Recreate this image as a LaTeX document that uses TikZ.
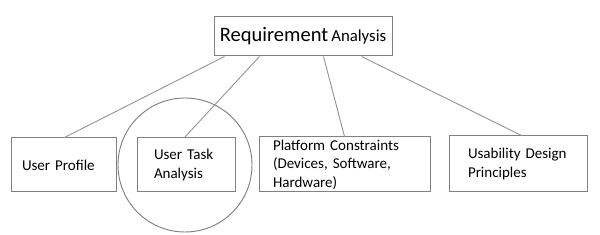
\documentclass[tikz,border=0pt]{standalone}
\usepackage{fontspec}
\setmainfont{Carlito}
\definecolor{boxgray}{RGB}{128,128,128}
\definecolor{linegray}{RGB}{150,150,150}
\newcommand\myboxfont{\fontsize{11.25}{14}\selectfont\spaceskip=0.2em\relax}
\begin{document}
\begin{tikzpicture}[x=0.75pt,y=-0.75pt,
  box/.style={draw=boxgray, line width=0.75pt, fill=white, rectangle, align=left, font=\myboxfont},
  conn/.style={draw=linegray, line width=0.7pt}]
\useasboundingbox (0,0) rectangle (600,235);
\draw[draw=boxgray, line width=0.7pt] (185,165) circle[radius=50.25pt];
\node[box, minimum width=133.5pt, minimum height=29.25pt, align=center] (top) at (303,36.5)
  {{\fontsize{15.4}{18}\selectfont Requirement} {\fontsize{12.6}{15}\selectfont Analysis}};
\node[box, minimum width=78.75pt, minimum height=40.5pt, text width=62.25pt, inner xsep=8.25pt] (up) at (63.5,165) {User Profile};
\node[box, minimum width=73.5pt, minimum height=40.5pt, text width=48pt, inner xsep=12.75pt] (ut) at (186,165) {User Task\\Analysis};
\node[box, minimum width=128.25pt, minimum height=41.25pt, text width=107.25pt, inner xsep=10.5pt, inner ysep=1pt] (pc) at (344.5,164.5) {Platform Constraints\\(Devices, Software,\\Hardware)};
\node[box, minimum width=103.5pt, minimum height=42pt, text width=75pt, inner xsep=14.25pt] (ud) at (518,164) {Usability Design\\Principles};
\draw[conn] ([xshift=8.25pt]top.south west) -- ([xshift=40.5pt]up.north west);
\draw[conn] ([xshift=34.5pt]top.south west) -- ([xshift=36pt]ut.north west);
\draw[conn] ([xshift=82.5pt]top.south west) -- ([xshift=64.5pt]pc.north west);
\draw[conn] ([xshift=111pt]top.south west) -- ([xshift=54.75pt]ud.north west);
\end{tikzpicture}
\end{document}
